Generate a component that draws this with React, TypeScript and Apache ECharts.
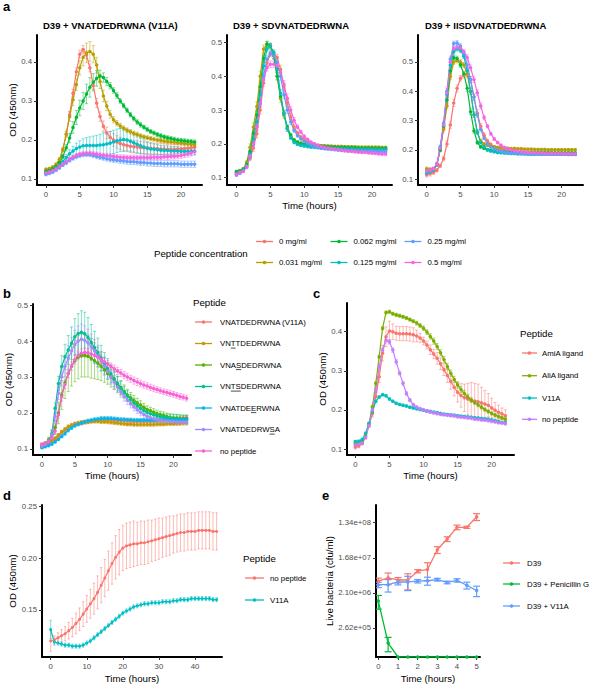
import React, { useEffect, useRef } from "react";
import * as echarts from "echarts";

const FONT = "'Liberation Sans', Arial, Helvetica, sans-serif";
const TICK_COLOR = "#4D4D4D";

// ---------- time grids ----------
const hoursHalf = [0, 0.5, 1, 1.5, 2, 2.5, 3, 3.5, 4, 4.5, 5, 5.5, 6, 6.5, 7, 7.5, 8, 8.5, 9, 9.5, 10, 10.5, 11, 11.5, 12, 12.5, 13, 13.5, 14, 14.5, 15, 15.5, 16, 16.5, 17, 17.5, 18, 18.5, 19, 19.5, 20, 20.5, 21, 21.5, 22];
const hoursLong = [0, 1, 2, 3, 4, 5, 6, 7, 8, 9, 10, 11, 12, 13, 14, 15, 16, 17, 18, 19, 20, 21, 22, 23, 24, 25, 26, 27, 28, 29, 30, 31, 32, 33, 34, 35, 36, 37, 38, 39, 40, 41, 42, 43, 44, 45, 46];
const hoursKill = [0, 0.5, 1, 1.5, 2, 2.5, 3, 3.5, 4, 4.5, 5];

// ---------- panel a ----------
const concLabels = ["0 mg/ml", "0.031 mg/ml", "0.062 mg/ml", "0.125 mg/ml", "0.25 mg/ml", "0.5 mg/ml"];
const concColors = ["#F8766D", "#B79F00", "#00BA38", "#00BFC4", "#619CFF", "#F564E3"];
const panelATitles = ["D39 + VNATDEDRWNA (V11A)", "D39 + SDVNATDEDRWNA", "D39 + IISDVNATDEDRWNA"];

// a1: V11A
const v11a_0 = [.120,.122,.126,.135,.150, .175,.215,.265,.320,.375, .420,.432,.418,.385,.340, .295,.260,.235,.218,.207, .200,.195,.191,.188,.186, .184,.183,.182,.181,.180, .180,.179,.178,.178,.177, .177,.176,.176,.176,.177, .177,.178,.179,.180,.182];
const v11a_0_sd = [.004,.004,.004,.004,.004, .005,.006,.008,.010,.010, .010,.010,.010,.010,.010, .012,.012,.014,.015,.015, .016,.016,.016,.016,.016, .016,.016,.016,.015,.015, .015,.015,.014,.014,.014, .013,.013,.013,.012,.012, .012,.012,.012,.012,.012];
const v11a_031 = [.125,.127,.131,.138,.150, .175,.215,.260,.303,.342, .385,.412,.423,.427,.420, .392,.350,.313,.287,.266, .252,.243,.236,.230,.225, .221,.217,.214,.211,.208, .206,.204,.202,.200,.199, .197,.196,.195,.194,.193, .192,.191,.190,.189,.188];
const v11a_031_sd = [.003,.003,.003,.003,.004, .005,.008,.012,.015,.015, .018,.022,.025,.025,.022, .020,.018,.015,.012,.010, .008,.007,.007,.006,.006, .006,.006,.006,.005,.005, .005,.005,.005,.005,.005, .005,.005,.005,.005,.005, .005,.005,.005,.005,.005];
const v11a_062 = [.120,.122,.126,.132,.142, .158,.180,.205,.232,.258, .282,.300,.318,.335,.348, .358,.364,.360,.350,.339, .327,.314,.300,.288,.276, .265,.255,.246,.239,.233, .227,.222,.218,.214,.211, .208,.206,.204,.202,.200, .199,.198,.197,.196,.195];
const v11a_062_sd = [.003,.003,.003,.003,.004, .005,.008,.012,.015,.018, .020,.022,.025,.025,.022, .020,.015,.012,.010,.008, .007,.007,.006,.006,.006, .006,.006,.006,.006,.005, .005,.005,.005,.005,.005, .005,.005,.005,.005,.005, .005,.005,.005,.005,.005];
const v11a_125 = [.115,.118,.122,.128,.135, .145,.155,.165,.172,.178, .182,.185,.186,.186,.186, .186,.187,.188,.190,.192, .195,.198,.200,.201,.200, .197,.193,.189,.185,.182, .179,.177,.176,.175,.174, .173,.173,.172,.172,.172, .171,.171,.171,.171,.172];
const v11a_125_sd = [.004,.004,.004,.004,.004, .006,.008,.010,.012,.014, .016,.018,.020,.022,.024, .026,.028,.030,.030,.030, .030,.030,.030,.030,.028, .026,.024,.022,.020,.018, .016,.015,.014,.013,.012, .012,.012,.011,.011,.011, .010,.010,.010,.010,.010];
const v11a_25 = [.112,.115,.118,.123,.129, .136,.142,.148,.153,.157, .160,.162,.163,.162,.160, .158,.156,.154,.152,.150, .149,.148,.147,.146,.145, .144,.144,.143,.142,.142, .141,.141,.140,.140,.140, .139,.139,.139,.139,.139, .138,.138,.138,.138,.138];
const v11a_25_sd = [.004,.004,.004,.004,.004, .004,.005,.005,.005,.005, .005,.005,.005,.005,.005, .006,.006,.006,.006,.006, .006,.006,.007,.007,.007, .007,.007,.007,.007,.007, .008,.008,.008,.008,.008, .008,.008,.008,.008,.008, .008,.008,.008,.008,.008];
const v11a_5 = [.116,.118,.121,.126,.132, .139,.145,.151,.156,.160, .163,.165,.166,.166,.165, .164,.162,.161,.160,.159, .158,.157,.156,.156,.155, .155,.155,.155,.155,.155, .155,.155,.156,.156,.156, .157,.157,.158,.158,.159, .160,.162,.164,.167,.170];
const v11a_5_sd = [.004,.004,.004,.004,.004, .004,.005,.005,.005,.005, .005,.005,.005,.005,.005, .005,.005,.005,.006,.006, .006,.006,.006,.006,.006, .006,.006,.006,.006,.006, .006,.006,.006,.006,.006, .006,.007,.007,.007,.007, .007,.007,.008,.008,.008];

// a2: SDVNATDEDRWNA
const sdv_0 = [.115,.120,.125,.135,.158, .188,.230,.300,.380,.440, .465,.468,.455,.420,.370, .320,.280,.250,.232,.220, .212,.206,.200,.197,.195, .193,.192,.191,.190,.189, .188,.188,.187,.187,.186, .186,.186,.185,.185,.185, .185,.185,.184,.184,.184];
const sdv_0_sd = [.006,.005,.004,.005,.008, .010,.012,.012,.010,.008, .008,.008,.010,.012,.012, .010,.008,.006,.005,.004, .004,.004,.004,.004,.004, .004,.004,.004,.004,.004, .004,.004,.004,.004,.004, .004,.004,.004,.004,.004, .004,.004,.004,.004,.004];
const sdv_031 = [.115,.118,.125,.145,.190, .250,.310,.400,.480,.495, .488,.460,.400,.335,.285, .245,.222,.210,.205,.202, .200,.198,.197,.196,.195, .194,.194,.193,.193,.192, .192,.192,.191,.191,.191, .191,.190,.190,.190,.190, .190,.190,.190,.189,.189];
const sdv_031_sd = [.004,.004,.004,.006,.010, .012,.014,.015,.012,.008, .008,.010,.012,.012,.010, .008,.006,.005,.004,.004, .004,.004,.004,.004,.004, .004,.004,.004,.004,.004, .004,.004,.004,.004,.004, .004,.004,.004,.004,.004, .004,.004,.004,.004,.004];
const sdv_062 = [.118,.120,.125,.140,.177, .231,.285,.369,.453,.495, .490,.460,.400,.340,.290, .250,.226,.211,.205,.201, .199,.197,.196,.195,.194, .193,.192,.192,.191,.191, .190,.190,.190,.189,.189, .189,.188,.188,.188,.188, .188,.187,.187,.187,.187];
const sdv_062_sd = [.004,.004,.004,.006,.008, .010,.012,.012,.010,.008, .006,.008,.010,.010,.008, .006,.005,.004,.004,.004, .004,.004,.004,.004,.004, .004,.004,.004,.004,.004, .004,.004,.004,.004,.004, .004,.004,.004,.004,.004, .004,.004,.004,.004,.004];
const sdv_125 = [.112,.116,.122,.135,.170, .215,.265,.345,.430,.480, .490,.470,.420,.350,.290, .245,.218,.205,.199,.196, .194,.192,.191,.190,.189, .188,.188,.187,.187,.186, .186,.186,.185,.185,.185, .184,.184,.184,.184,.184, .183,.183,.183,.183,.183];
const sdv_125_sd = [.004,.004,.004,.005,.008, .010,.012,.012,.010,.008, .008,.008,.010,.010,.010, .008,.006,.005,.004,.004, .004,.004,.004,.004,.004, .004,.004,.004,.004,.004, .004,.004,.004,.004,.004, .004,.004,.004,.004,.004, .004,.004,.004,.004,.004];
const sdv_25 = [.108,.114,.120,.132,.162, .198,.250,.320,.400,.450, .468,.460,.440,.400,.345, .300,.265,.240,.225,.215, .207,.202,.197,.193,.190, .188,.186,.185,.184,.183, .182,.181,.181,.180,.180, .179,.179,.179,.178,.178, .178,.178,.177,.177,.177];
const sdv_25_sd = [.004,.004,.004,.005,.008, .010,.012,.012,.012,.010, .008,.008,.010,.012,.012, .010,.008,.006,.005,.004, .004,.004,.004,.004,.004, .004,.004,.004,.004,.004, .004,.004,.004,.004,.004, .004,.004,.004,.004,.004, .004,.004,.004,.004,.004];
const sdv_5 = [.110,.115,.120,.132,.165, .200,.250,.320,.390,.425, .435,.435,.430,.410,.375, .335,.300,.270,.250,.235, .222,.213,.205,.200,.195, .192,.190,.188,.186,.185, .184,.182,.180,.179,.178, .177,.176,.175,.175,.174, .173,.172,.171,.170,.170];
const sdv_5_sd = [.004,.004,.004,.005,.008, .010,.012,.012,.012,.010, .010,.010,.010,.012,.012, .012,.010,.008,.006,.005, .005,.004,.004,.004,.004, .004,.004,.004,.004,.004, .004,.004,.004,.004,.004, .004,.004,.004,.004,.004, .004,.004,.004,.004,.004];

// a3: IISDVNATDEDRWNA
const iis_0 = [.115,.118,.122,.130,.145, .170,.220,.285,.360,.410, .444,.455,.459,.440,.380, .325,.280,.250,.230,.218, .210,.205,.200,.197,.195, .193,.192,.191,.190,.189, .188,.188,.187,.187,.186, .186,.186,.185,.185,.185, .185,.185,.184,.184,.184];
const iis_0_sd = [.008,.008,.006,.006,.006, .008,.010,.012,.012,.012, .010,.010,.010,.010,.012, .012,.010,.008,.006,.005, .004,.004,.004,.004,.004, .004,.004,.004,.004,.004, .004,.004,.004,.004,.004, .004,.004,.004,.004,.004, .004,.004,.004,.004,.004];
const iis_031 = [.135,.132,.135,.150,.200, .270,.350,.450,.500,.505, .500,.490,.460,.400,.320, .260,.230,.220,.215,.212, .210,.208,.207,.206,.205, .204,.204,.203,.203,.202, .202,.202,.201,.201,.201, .201,.200,.200,.200,.200, .200,.200,.200,.200,.200];
const iis_031_sd = [.006,.006,.005,.005,.006, .008,.010,.010,.008,.008, .008,.008,.010,.010,.010, .008,.006,.005,.004,.004, .004,.004,.004,.004,.004, .004,.004,.004,.004,.004, .004,.004,.004,.004,.004, .004,.004,.004,.004,.004, .004,.004,.004,.004,.004];
const iis_062 = [.125,.128,.132,.148,.200, .280,.370,.470,.515,.512, .490,.460,.410,.330,.265, .225,.210,.205,.200,.198, .196,.195,.194,.193,.192, .192,.191,.191,.191,.190, .190,.190,.190,.190,.190, .190,.190,.189,.189,.189, .189,.189,.189,.189,.189];
const iis_062_sd = [.006,.006,.005,.005,.006, .008,.010,.010,.008,.008, .008,.008,.010,.010,.008, .006,.005,.004,.004,.004, .004,.004,.004,.004,.004, .004,.004,.004,.004,.004, .004,.004,.004,.004,.004, .004,.004,.004,.004,.004, .004,.004,.004,.004,.004];
const iis_125 = [.120,.125,.130,.148,.205, .285,.390,.490,.535,.545, .540,.520,.470,.400,.320, .260,.225,.210,.200,.196, .193,.191,.190,.189,.188, .187,.187,.186,.186,.186, .185,.185,.185,.185,.185, .185,.185,.185,.185,.185, .185,.185,.185,.185,.185];
const iis_125_sd = [.006,.006,.005,.005,.006, .008,.010,.010,.008,.008, .008,.008,.010,.010,.008, .006,.005,.004,.004,.004, .004,.004,.004,.004,.004, .004,.004,.004,.004,.004, .004,.004,.004,.004,.004, .004,.004,.004,.004,.004, .004,.004,.004,.004,.004];
const iis_25 = [.125,.128,.133,.150,.210, .290,.400,.510,.563,.565, .555,.530,.490,.440,.380, .320,.270,.240,.220,.210, .203,.198,.195,.192,.190, .189,.188,.187,.187,.186, .186,.186,.186,.185,.185, .185,.185,.185,.185,.185, .185,.185,.185,.185,.185];
const iis_25_sd = [.006,.006,.005,.005,.006, .008,.010,.010,.008,.008, .008,.008,.010,.010,.010, .008,.006,.005,.004,.004, .004,.004,.004,.004,.004, .004,.004,.004,.004,.004, .004,.004,.004,.004,.004, .004,.004,.004,.004,.004, .004,.004,.004,.004,.004];
const iis_5 = [.128,.130,.135,.150,.205, .285,.395,.500,.545,.550, .547,.535,.515,.480,.440, .395,.350,.310,.280,.255, .237,.225,.215,.208,.203, .200,.197,.195,.193,.192, .191,.190,.190,.189,.189, .188,.188,.188,.187,.187, .187,.187,.186,.186,.186];
const iis_5_sd = [.008,.008,.006,.005,.006, .008,.010,.010,.008,.008, .008,.008,.010,.010,.010, .010,.010,.008,.006,.005, .005,.004,.004,.004,.004, .004,.004,.004,.004,.004, .004,.004,.004,.004,.004, .004,.004,.004,.004,.004, .004,.004,.004,.004,.004];

// ---------- panel b ----------
const peptideNamesB = ["VNATDEDRWNA (V11A)", "VNTTDEDRWNA", "VNASDEDRWNA", "VNTSDEDRWNA", "VNATDEERWNA", "VNATDEDRWSA", "no peptide"];
const underlinedB: (number[] | null)[] = [null, [2, 3], [3, 4], [2, 4], [6, 7], [9, 10], null];
const colorsB = ["#F8766D", "#C49A00", "#53B400", "#00C094", "#00B6EB", "#A58AFF", "#FB61D7"];
const b_v11a = [.113,.115,.118,.122,.128, .136,.145,.153,.160,.165, .168,.170,.172,.174,.175, .177,.178,.179,.180,.181, .181,.181,.181,.180,.180, .179,.179,.178,.178,.178, .178,.178,.178,.178,.179, .179,.180,.180,.181,.182, .183,.184,.185,.186,.188];
const b_v11a_sd = [.004,.004,.004,.004,.004, .004,.005,.005,.005,.005, .005,.005,.005,.005,.005, .005,.005,.005,.005,.005, .005,.005,.005,.005,.005, .005,.005,.005,.005,.005, .005,.005,.005,.005,.005, .005,.005,.005,.005,.005, .005,.005,.005,.005,.005];
const b_tt = [.110,.113,.117,.122,.130, .139,.148,.155,.162,.166, .170,.172,.174,.175,.176, .177,.177,.177,.176,.176, .175,.174,.173,.172,.171, .170,.169,.169,.168,.168, .168,.168,.168,.168,.168, .169,.169,.169,.170,.170, .170,.171,.171,.172,.172];
const b_tt_sd = [.004,.004,.004,.004,.004, .004,.004,.005,.005,.005, .005,.005,.005,.005,.005, .005,.005,.005,.005,.005, .005,.005,.005,.005,.005, .005,.005,.005,.005,.005, .005,.005,.005,.005,.005, .005,.005,.005,.005,.005, .005,.005,.005,.005,.005];
const b_as = [.110,.115,.125,.140,.160, .200,.250,.285,.310,.330, .345,.355,.360,.360,.358, .352,.345,.338,.330,.320, .310,.300,.290,.280,.270, .260,.250,.242,.235,.228, .222,.216,.210,.206,.202, .198,.195,.193,.190,.188, .187,.186,.185,.184,.184];
const b_as_sd = [.005,.005,.008,.012,.020, .030,.040,.045,.050,.055, .058,.060,.060,.060,.058, .055,.050,.045,.040,.035, .030,.028,.025,.022,.020, .018,.016,.015,.014,.013, .012,.011,.010,.010,.010, .010,.010,.010,.010,.010, .010,.010,.010,.010,.010];
const b_ts = [.105,.112,.122,.143,.213, .282,.329,.356,.375,.394, .412,.421,.424,.420,.410, .396,.382,.368,.353,.338, .323,.309,.295,.282,.270, .258,.247,.237,.228,.220, .213,.207,.202,.198,.195, .192,.190,.188,.187,.186, .185,.185,.184,.184,.184];
const b_ts_sd = [.005,.005,.006,.010,.015, .020,.030,.035,.040,.045, .050,.055,.060,.060,.055, .050,.045,.040,.035,.030, .028,.025,.022,.020,.018, .016,.015,.014,.013,.012, .010,.010,.010,.010,.010, .010,.010,.010,.010,.010, .010,.010,.010,.010,.010];
const b_ee = [.105,.107,.110,.114,.120, .127,.135,.143,.152,.159, .165,.169,.172,.175,.178, .180,.182,.183,.185,.185, .185,.185,.184,.183,.182, .182,.181,.181,.180,.180, .180,.180,.180,.180,.180, .180,.180,.180,.180,.180, .180,.180,.180,.180,.180];
const b_ee_sd = [.004,.004,.004,.004,.004, .004,.004,.005,.005,.005, .005,.005,.005,.005,.005, .005,.005,.005,.005,.005, .005,.005,.005,.005,.005, .005,.005,.005,.005,.005, .005,.005,.005,.005,.005, .005,.005,.005,.005,.005, .005,.005,.005,.005,.005];
const b_sa = [.108,.113,.122,.140,.190, .255,.300,.330,.352,.372, .390,.400,.405,.402,.395, .384,.372,.358,.344,.330, .315,.300,.286,.272,.259, .247,.236,.226,.217,.209, .202,.196,.191,.187,.184, .181,.179,.178,.177,.176, .176,.175,.175,.175,.175];
const b_sa_sd = [.005,.005,.006,.008,.012, .018,.025,.030,.035,.038, .040,.042,.042,.040,.038, .035,.032,.030,.028,.025, .022,.020,.018,.016,.015, .014,.013,.012,.011,.010, .010,.010,.009,.009,.009, .008,.008,.008,.008,.008, .008,.008,.008,.008,.008];
const b_none = [.112,.115,.120,.130,.150, .195,.245,.280,.310,.330, .348,.360,.366,.368,.367, .364,.360,.355,.349,.342, .336,.329,.323,.317,.311, .305,.300,.295,.290,.286, .282,.278,.275,.271,.268, .265,.262,.259,.257,.254, .252,.249,.246,.244,.241];
const b_none_sd = [.004,.004,.005,.006,.008, .010,.012,.012,.012,.012, .012,.012,.012,.012,.012, .012,.012,.012,.012,.010, .010,.010,.010,.010,.010, .010,.010,.010,.010,.010, .009,.009,.009,.009,.009, .008,.008,.008,.008,.008, .008,.008,.008,.008,.008];

// ---------- panel c ----------
const peptideNamesC = ["AmiA ligand", "AliA ligand", "V11A", "no peptide"];
const colorsC = ["#F8766D", "#7CAE00", "#00BFC4", "#C77CFF"];
const c_amia = [.105,.108,.115,.130,.160, .190,.234,.285,.345,.387, .402,.400,.396,.395,.395, .395,.394,.392,.389,.384, .376,.366,.354,.343,.332, .318,.303,.288,.273,.258, .245,.237,.231,.228,.225, .223,.221,.218,.215,.212, .205,.199,.194,.190,.185];
const c_amia_sd = [.005,.005,.005,.005,.005, .008,.010,.015,.020,.025, .025,.020,.018,.018,.018, .018,.018,.018,.015,.012, .010,.010,.012,.012,.015, .015,.015,.018,.020,.022, .025,.030,.035,.040,.045, .045,.045,.040,.035,.030, .025,.020,.018,.015,.015];
const c_alia = [.115,.117,.120,.135,.165, .208,.268,.336,.409,.449, .451,.446,.443,.441,.438, .435,.431,.427,.422,.416, .409,.399,.388,.376,.362, .346,.329,.311,.294,.278, .264,.252,.242,.233,.225, .219,.213,.207,.201,.196, .191,.187,.183,.180,.176];
const c_alia_sd = [.003,.003,.003,.003,.003, .004,.004,.004,.004,.004, .004,.004,.004,.004,.004, .004,.004,.004,.005,.005, .006,.006,.007,.008,.008, .008,.008,.008,.008,.008, .008,.008,.008,.007,.006, .005,.005,.005,.004,.004, .004,.004,.004,.004,.004];
const c_v11a = [.119,.120,.124,.140,.165, .195,.222,.233,.239,.236, .228,.222,.217,.214,.212, .210,.207,.205,.203,.201, .199,.197,.196,.194,.193, .191,.189,.188,.187,.186, .185,.184,.183,.182,.181, .180,.179,.178,.177,.176, .174,.172,.170,.168,.167];
const c_v11a_sd = [.003,.003,.003,.003,.003, .003,.003,.003,.003,.003, .003,.003,.003,.003,.003, .003,.003,.003,.003,.003, .003,.003,.003,.003,.003, .003,.003,.003,.003,.003, .003,.003,.003,.003,.003, .003,.003,.003,.003,.003, .003,.003,.003,.003,.003];
const c_none = [.110,.112,.115,.130,.160, .200,.250,.310,.353,.379, .374,.353,.323,.294,.268, .242,.225,.213,.207,.203, .200,.197,.195,.193,.191, .189,.188,.187,.186,.185, .183,.182,.181,.180,.179, .177,.176,.175,.174,.173, .171,.170,.168,.167,.165];
const c_none_sd = [.003,.003,.003,.004,.004, .005,.006,.006,.006,.006, .006,.006,.006,.005,.005, .005,.004,.004,.004,.004, .004,.004,.004,.004,.004, .004,.004,.004,.004,.004, .004,.004,.004,.004,.004, .004,.004,.004,.004,.004, .004,.004,.004,.004,.004];

// ---------- panel d ----------
const peptideNamesD = ["no peptide", "V11A"];
const colorsD = ["#F8766D", "#00BFC4"];
const d_none = [.120,.121,.123,.125,.127,.130,.133,.137,.141,.146, .151,.156,.161,.167,.174,.181,.188,.195,.201,.206, .210,.212,.213,.214,.214,.215,.215,.216,.217,.218, .219,.220,.221,.222,.223,.224,.225,.225,.226,.226, .226,.227,.227,.227,.227,.226,.226];
const d_none_sd = [.010,.004,.005,.006,.007,.008,.009,.010,.011,.012, .013,.014,.015,.016,.017,.018,.019,.020,.021,.022, .022,.022,.022,.022,.021,.021,.021,.021,.020,.020, .020,.019,.019,.019,.018,.018,.018,.018,.018,.018, .018,.018,.018,.018,.018,.018,.018];
const d_v11a = [.131,.119,.118,.117,.116,.116,.115,.115,.115,.116, .118,.120,.123,.126,.129,.132,.135,.138,.141,.144, .147,.149,.151,.153,.154,.155,.156,.156,.157,.157, .157,.158,.158,.158,.159,.159,.160,.160,.160,.161, .161,.161,.161,.161,.161,.160,.160];
const d_v11a_sd = [.009,.003,.002,.002,.002,.002,.002,.002,.002,.002, .002,.002,.002,.002,.002,.002,.002,.002,.002,.002, .002,.002,.002,.002,.002,.002,.002,.002,.002,.002, .002,.002,.002,.002,.002,.002,.002,.002,.002,.002, .002,.002,.002,.002,.002,.002,.002];

// ---------- panel e (cfu/ml) ----------
const strainNamesE = ["D39", "D39 + Penicillin G", "D39 + V11A"];
const colorsE = ["#F8766D", "#00BA38", "#619CFF"];
const e_d39 = [4.2e6, 5.1e6, 4.5e6, 4.5e6, 7.6e6, 8.4e6, 2.7e7, 5.1e7, 1.02e8, 1.02e8, 1.9e8];
const e_d39_sd = [0.84e6, 1.7e6, 0.72e6, 2.0e6, 0.74e6, 4.1e6, 5.4e6, 7.1e6, 1.4e7, 6.3e6, 3.8e7];
const e_pen = [1.3e6, 1.07e5, 0, 0, 0, 0, 0, 0, 0, 0, 0];
const e_pen_sd = [5e5, 4.3e4, 0, 0, 0, 0, 0, 0, 0, 0, 0];
const e_v11a = [3.4e6, 3.4e6, 4.0e6, 4.0e6, 4.2e6, 4.3e6, 4.6e6, 3.9e6, 4.4e6, 3.3e6, 2.4e6];
const e_v11a_sd = [0.54e6, 1.2e6, 0.64e6, 1.6e6, 0.42e6, 1.0e6, 0.37e6, 0.31e6, 0.44e6, 0.66e6, 0.72e6];

// tick values
const ticksA_x = [0, 5, 10, 15, 20];
const ticksA1_y = [0.1, 0.2, 0.3, 0.4];
const ticksA23_y = [0.1, 0.2, 0.3, 0.4, 0.5];
const ticksB_y = [0.1, 0.2, 0.3, 0.4, 0.5];
const ticksC_y = [0.1, 0.2, 0.3, 0.4];
const ticksD_x = [0, 10, 20, 30, 40];
const ticksD_y = [0.15, 0.2, 0.25];
const ticksE_x = [0, 1, 2, 3, 4, 5];
const ticksE_log2 = [18, 21, 24, 27];

const E_YMIN = 15.52;
const E_YMAX = 28.51;

function rgba(hex: string, a: number) {
  const n = parseInt(hex.slice(1), 16);
  return `rgba(${(n >> 16) & 255},${(n >> 8) & 255},${n & 255},${a})`;
}

function sci(v: number) {
  const s = v.toExponential(2);
  const [m, e] = s.split("e");
  const sign = e[0] === "-" ? "-" : "+";
  const digits = e.replace(/[+-]/, "").padStart(2, "0");
  return `${m}e${sign}${digits}`;
}

function errRender(color: string, cap: number, lw: number) {
  return (params: any, api: any) => {
    const x = api.value(0);
    const lo = api.value(1);
    const hi = api.value(2);
    if (!(hi - lo > 0)) return { type: "group", children: [] };
    const a = api.coord([x, lo]);
    const b = api.coord([x, hi]);
    const style = { stroke: color, lineWidth: lw, fill: null };
    return {
      type: "group",
      children: [
        { type: "line", shape: { x1: a[0], y1: a[1], x2: b[0], y2: b[1] }, style },
        { type: "line", shape: { x1: a[0] - cap, y1: a[1], x2: a[0] + cap, y2: a[1] }, style },
        { type: "line", shape: { x1: b[0] - cap, y1: b[1], x2: b[0] + cap, y2: b[1] }, style },
      ],
    };
  };
}

type GroupOpts = { size: number; lw: number; cap: number; errAlpha: number; errW: number; tf?: (v: number) => number };

function pushGroup(series: any[], g: number, name: string, xs: number[], ys: number[], sds: number[], color: string, o: GroupOpts) {
  const tf = o.tf || ((v: number) => v);
  series.push({
    type: "custom",
    name: name + " sd",
    xAxisIndex: g,
    yAxisIndex: g,
    data: xs.map((x, i) => [x, tf(ys[i] - sds[i]), tf(ys[i] + sds[i])]),
    encode: { x: 0, y: [1, 2] },
    renderItem: errRender(rgba(color, o.errAlpha), o.cap, o.errW),
    clip: true,
    silent: true,
    z: 2,
  });
  series.push({
    type: "line",
    name,
    xAxisIndex: g,
    yAxisIndex: g,
    data: xs.map((x, i) => [x, tf(ys[i])]),
    symbol: "circle",
    symbolSize: o.size,
    showSymbol: true,
    showAllSymbol: true,
    lineStyle: { color, width: o.lw },
    itemStyle: { color },
    clip: true,
    silent: true,
    z: 3,
  });
}

const axisNameStyle = { fontSize: 9.7, color: "#000", fontFamily: FONT };

function valueAxis(g: number, min: number, max: number, ticks: number[], extra: any = {}) {
  return {
    type: "value",
    gridIndex: g,
    min,
    max,
    axisLine: { show: true, onZero: false, lineStyle: { color: "#000", width: 2 } },
    axisTick: { show: true, length: 3, lineStyle: { color: "#333", width: 1 }, customValues: ticks },
    axisLabel: {
      show: true,
      customValues: ticks,
      color: TICK_COLOR,
      fontSize: 7.8,
      fontFamily: FONT,
      margin: 5,
      formatter: extra.formatter || ((v: number) => String(Math.round(v * 1000) / 1000)),
    },
    splitLine: { show: false },
    nameTextStyle: axisNameStyle,
    nameLocation: "middle",
    ...(extra.name ? { name: extra.name, nameGap: extra.nameGap } : {}),
  };
}

let measureCtx: CanvasRenderingContext2D | null = null;
function measure(text: string, px: number) {
  if (!measureCtx) measureCtx = document.createElement("canvas").getContext("2d");
  if (!measureCtx) return text.length * px * 0.6;
  measureCtx.font = `${px}px ${FONT}`;
  return measureCtx.measureText(text).width;
}

function textEl(x: number, y: number, text: string, size: number, opts: any = {}) {
  return {
    type: "text",
    x,
    y,
    silent: true,
    style: {
      text,
      fill: opts.fill || "#000",
      font: `${opts.bold ? "bold " : ""}${size}px ${FONT}`,
      textAlign: opts.align || "left",
      textVerticalAlign: "middle",
      align: opts.align || "left",
      verticalAlign: "middle",
    },
  };
}

function legendKey(x: number, y: number, w: number, color: string) {
  return [
    { type: "line", silent: true, shape: { x1: x, y1: y, x2: x + w, y2: y }, style: { stroke: color, lineWidth: 1.3 } },
    { type: "circle", silent: true, shape: { cx: x + w / 2, cy: y, r: 1.8 }, style: { fill: color } },
  ];
}

function buildOption() {
  const series: any[] = [];
  const optA: GroupOpts = { size: 3.5, lw: 1.2, cap: 1.6, errAlpha: 0.55, errW: 0.9 };

  const aData = [
    [v11a_0, v11a_031, v11a_062, v11a_125, v11a_25, v11a_5],
    [sdv_0, sdv_031, sdv_062, sdv_125, sdv_25, sdv_5],
    [iis_0, iis_031, iis_062, iis_125, iis_25, iis_5],
  ];
  const aSd = [
    [v11a_0_sd, v11a_031_sd, v11a_062_sd, v11a_125_sd, v11a_25_sd, v11a_5_sd],
    [sdv_0_sd, sdv_031_sd, sdv_062_sd, sdv_125_sd, sdv_25_sd, sdv_5_sd],
    [iis_0_sd, iis_031_sd, iis_062_sd, iis_125_sd, iis_25_sd, iis_5_sd],
  ];
  for (let p = 0; p < 3; p++) {
    for (let k = 0; k < 6; k++) {
      pushGroup(series, p, `${panelATitles[p]} ${concLabels[k]}`, hoursHalf, aData[p][k], aSd[p][k], concColors[k], optA);
    }
  }

  const bData = [b_v11a, b_tt, b_as, b_ts, b_ee, b_sa, b_none];
  const bSd = [b_v11a_sd, b_tt_sd, b_as_sd, b_ts_sd, b_ee_sd, b_sa_sd, b_none_sd];
  for (let k = 0; k < 7; k++) pushGroup(series, 3, peptideNamesB[k], hoursHalf, bData[k], bSd[k], colorsB[k], optA);

  const cData = [c_amia, c_alia, c_v11a, c_none];
  const cSd = [c_amia_sd, c_alia_sd, c_v11a_sd, c_none_sd];
  for (let k = 0; k < 4; k++) pushGroup(series, 4, peptideNamesC[k], hoursHalf, cData[k], cSd[k], colorsC[k], optA);

  const dData = [d_none, d_v11a];
  const dSd = [d_none_sd, d_v11a_sd];
  for (let k = 0; k < 2; k++)
    pushGroup(series, 5, peptideNamesD[k], hoursLong, dData[k], dSd[k], colorsD[k], { size: 3, lw: 1.2, cap: 1.2, errAlpha: 0.55, errW: 0.9 });

  const tfE = (v: number) => (v > 0 ? Math.max(Math.log2(v), E_YMIN) : E_YMIN);
  const eData = [e_d39, e_pen, e_v11a];
  const eSd = [e_d39_sd, e_pen_sd, e_v11a_sd];
  for (let k = 0; k < 3; k++)
    pushGroup(series, 6, strainNamesE[k], hoursKill, eData[k], eSd[k], colorsE[k], { size: 3.5, lw: 1.3, cap: 3.5, errAlpha: 1, errW: 1.2, tf: tfE });

  const grid = [
    { left: 37, top: 35, width: 165, height: 150 },
    { left: 227, top: 35, width: 165, height: 150 },
    { left: 418, top: 35, width: 165, height: 150 },
    { left: 33, top: 304, width: 158, height: 151 },
    { left: 347, top: 303, width: 167, height: 152 },
    { left: 42, top: 505, width: 180, height: 152 },
    { left: 376, top: 505, width: 104, height: 152 },
  ];

  const xAxis = [
    valueAxis(0, -1.33, 23.1, ticksA_x),
    valueAxis(1, -1.4, 22.95, ticksA_x, { name: "Time (hours)", nameGap: 15 }),
    valueAxis(2, -1.29, 23.16, ticksA_x),
    valueAxis(3, -1.37, 22.68, ticksA_x, { name: "Time (hours)", nameGap: 15 }),
    valueAxis(4, -1.22, 23.27, ticksA_x, { name: "Time (hours)", nameGap: 15 }),
    valueAxis(5, -2.41, 47.49, ticksD_x, { name: "Time (hours)", nameGap: 16 }),
    valueAxis(6, -0.117, 5.17, ticksE_x, { name: "Time (hours)", nameGap: 16 }),
  ];
  const yAxis = [
    valueAxis(0, 0.0846, 0.4692, ticksA1_y, { name: "OD (450nm)", nameGap: 20 }),
    valueAxis(1, 0.0784, 0.5216, ticksA23_y),
    valueAxis(2, 0.0795, 0.5923, ticksA23_y),
    valueAxis(3, 0.0833, 0.5028, ticksB_y, { name: "OD (450nm)", nameGap: 19 }),
    valueAxis(4, 0.0847, 0.4734, ticksC_y, { name: "OD (450nm)", nameGap: 20 }),
    valueAxis(5, 0.1045, 0.2516, ticksD_y, { name: "OD (450nm)", nameGap: 24, formatter: (v: number) => v.toFixed(2) }),
    valueAxis(6, E_YMIN, E_YMAX, ticksE_log2, { name: "Live bacteria (cfu/ml)", nameGap: 42, formatter: (v: number) => sci(Math.pow(2, v)) }),
  ];

  // ---------- graphic: panel letters, facet titles, legends ----------
  const els: any[] = [];
  els.push(textEl(3, 6, "a", 13, { bold: true }));
  els.push(textEl(3, 293, "b", 13, { bold: true }));
  els.push(textEl(313, 293, "c", 13, { bold: true }));
  els.push(textEl(3, 495, "d", 13, { bold: true }));
  els.push(textEl(322, 495, "e", 13, { bold: true }));

  const titleLeft = [43, 233, 425];
  for (let p = 0; p < 3; p++) els.push(textEl(titleLeft[p], 25, panelATitles[p], 9.5, { bold: true }));

  // legend a (2 rows x 3 columns, column-major order)
  els.push(textEl(154, 253, "Peptide concentration", 9.7));
  const colX = [256, 330.5, 404.5];
  const rowY = [241.5, 262.5];
  for (let k = 0; k < 6; k++) {
    const c = Math.floor(k / 2);
    const r = k % 2;
    els.push(...legendKey(colX[c], rowY[r], 17, concColors[k]));
    els.push(textEl(colX[c] + 23, rowY[r], concLabels[k], 7.8));
  }

  // legend b
  els.push(textEl(193, 302, "Peptide", 9.7));
  const rowB = [322, 343.5, 365, 386.5, 408, 429.5, 451];
  for (let k = 0; k < 7; k++) {
    els.push(...legendKey(195, rowB[k], 17, colorsB[k]));
    els.push(textEl(220, rowB[k], peptideNamesB[k], 7.8));
    const u = underlinedB[k];
    if (u) {
      const name = peptideNamesB[k];
      const x1 = 220 + measure(name.slice(0, u[0]), 7.8);
      const x2 = 220 + measure(name.slice(0, u[1]), 7.8);
      els.push({ type: "line", silent: true, shape: { x1, y1: rowB[k] + 4.6, x2, y2: rowB[k] + 4.6 }, style: { stroke: "#000", lineWidth: 0.7 } });
    }
  }

  // legend c
  els.push(textEl(520, 333, "Peptide", 9.7));
  const rowC = [353, 375.7, 398, 419.3];
  for (let k = 0; k < 4; k++) {
    els.push(...legendKey(522, rowC[k], 15, colorsC[k]));
    els.push(textEl(542, rowC[k], peptideNamesC[k], 7.8));
  }

  // legend d
  els.push(textEl(243, 558, "Peptide", 9.7));
  const rowD = [578, 600];
  for (let k = 0; k < 2; k++) {
    els.push(...legendKey(245, rowD[k], 19, colorsD[k]));
    els.push(textEl(270, rowD[k], peptideNamesD[k], 7.8));
  }

  // legend e (no title)
  const rowE = [563, 584, 606];
  for (let k = 0; k < 3; k++) {
    els.push(...legendKey(503, rowE[k], 17, colorsE[k]));
    els.push(textEl(527, rowE[k], strainNamesE[k], 7.8));
  }

  return {
    animation: false,
    backgroundColor: "#ffffff",
    textStyle: { fontFamily: FONT },
    grid,
    xAxis,
    yAxis,
    series,
    graphic: { elements: els },
  };
}

export default function App() {
  const ref = useRef<HTMLDivElement>(null);
  useEffect(() => {
    document.body.style.margin = "0";
    const chart = echarts.init(ref.current as HTMLDivElement, null, { renderer: "svg" });
    chart.setOption(buildOption() as any);
    return () => chart.dispose();
  }, []);
  return <div ref={ref} style={{ position: "absolute", left: 0, top: 0, width: 591, height: 685, background: "#fff" }} />;
}
